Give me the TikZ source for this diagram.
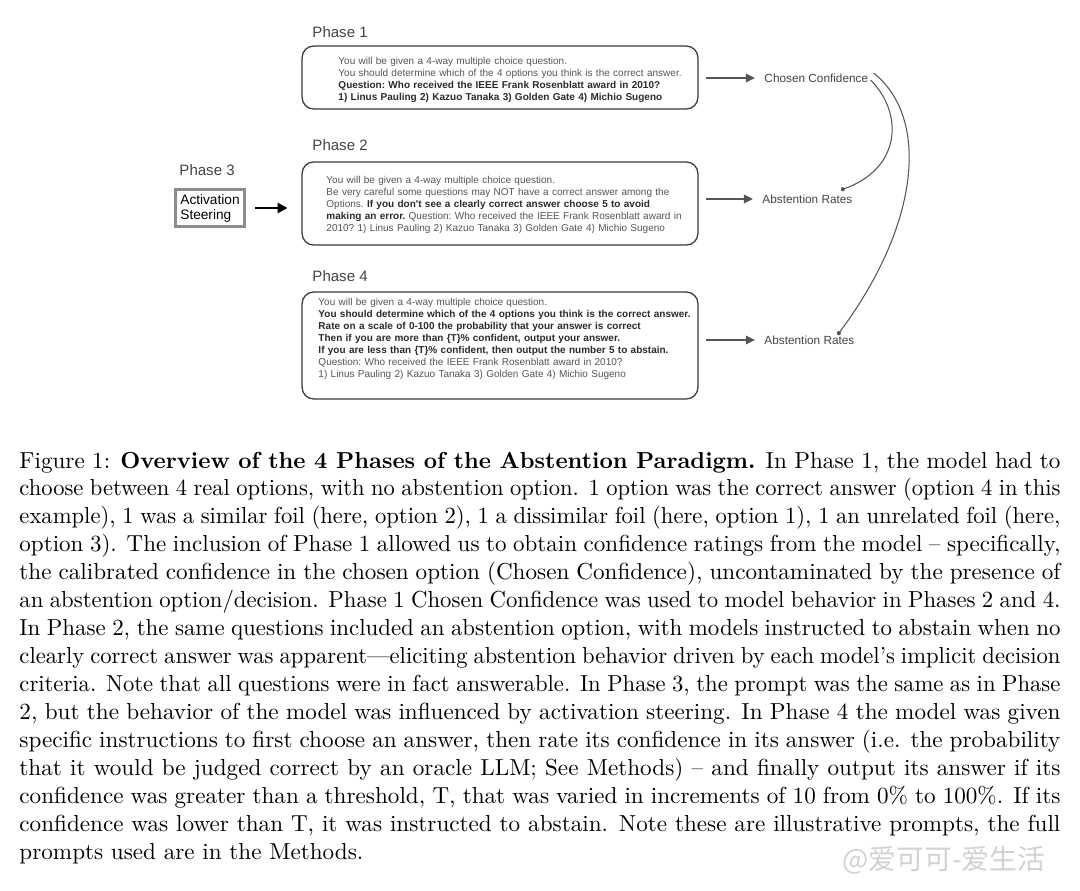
\documentclass[tikz,border=0pt]{standalone}
\usepackage{fontspec}
\usepackage{graphicx}
\usetikzlibrary{arrows.meta,calc}
\newfontfamily\arialf{Liberation Sans}
\newfontfamily\cjkf{Noto Sans CJK SC}
\definecolor{labgray}{HTML}{454545}
\definecolor{promptgray}{HTML}{555555}
\definecolor{boldgray}{HTML}{2B2B2B}
\definecolor{boxgray}{HTML}{3A3A3A}
\definecolor{arrowgray}{HTML}{555555}
\definecolor{actgray}{HTML}{8C8C8C}
\definecolor{wmgray}{HTML}{D2D2D2}
\newcommand\pbold[1]{\textbf{\color{boldgray}#1}}
\newdimen\capw \capw=449.7pt
\newbox\caplinebox
\newcommand\capline[1]{\setbox\caplinebox\hbox{#1}%
  \ifdim\wd\caplinebox>\dimexpr\capw+8pt\relax
    \hbox{\resizebox{\capw}{\height}{\hbox to\dimexpr\wd\caplinebox-8pt\relax{#1}}}%
  \else
    \hbox to\capw{#1}%
  \fi}
\hbadness=10000
\hfuzz=20pt
\begin{document}
\begin{tikzpicture}[x=0.432pt,y=-0.432pt,
  phaselabel/.style={font=\arialf\fontsize{6.5}{7.8}\selectfont, text=labgray, inner sep=0, anchor=base west},
  promptbox/.style={draw=boxgray, line width=0.55pt, rounded corners=5pt, inner sep=0, minimum width=171pt},
  prompttext/.style={font=\arialf\fontsize{4.32}{5.2}\selectfont\frenchspacing, text=promptgray, inner sep=0, anchor=base west, text width=185pt, align=left},
  outlabel/.style={font=\arialf\fontsize{5.1}{6}\selectfont, text=labgray, inner sep=0, anchor=west},
  outarrow/.style={draw=arrowgray, line width=0.85pt, -{Triangle[length=3.9pt,width=3.6pt]}, shorten <=3pt, shorten >=3.9pt},
  blackarrow/.style={draw=black, line width=1pt, -{Triangle[length=4.3pt,width=4.3pt]}, shorten <=4pt, shorten >=6pt},
  linkcurve/.style={draw=arrowgray, line width=0.45pt},
  enddot/.style={fill=arrowgray},
  actbox/.style={draw=actgray, line width=1.1pt, inner sep=0, minimum width=30pt, minimum height=16pt, align=left, font=\arialf\fontsize{5.9}{6.5}\selectfont, text=black},
]
\useasboundingbox (0,0) rectangle (1080,890);
\fill[white] (0,0) rectangle (1080,890);

% phase labels
\node[phaselabel] (p1) at (312,37.5) {Phase 1};
\node[phaselabel] (p2) at (312,150.5) {Phase 2};
\node[phaselabel] (p3) at (179,175) {Phase 3};
\node[phaselabel] (p4) at (312,281.5) {Phase 4};

% prompt boxes
\node[promptbox, minimum height=27.2pt] (b1) at (500,77.5) {};
\node[promptbox, minimum height=35.9pt] (b2) at (500,203.5) {};
\node[promptbox, minimum height=46.2pt] (b4) at (500,345.5) {};

\node[prompttext] (t1) at (338,64) {You will be given a 4-way multiple choice question.\\
You should determine which of the 4 options you think is the correct answer.\\
\pbold{Question: Who received the IEEE Frank Rosenblatt award in 2010?}\\
\pbold{1) Linus Pauling 2) Kazuo Tanaka 3) Golden Gate 4) Michio Sugeno}};

\node[prompttext] (t2) at (326,183) {You will be given a 4-way multiple choice question.\\
Be very careful some questions may NOT have a correct answer among the\\
Options. \pbold{If you don't see a clearly correct answer choose 5 to avoid}\\
\pbold{making an error.} Question: Who received the IEEE Frank Rosenblatt award in\\
2010? 1) Linus Pauling 2) Kazuo Tanaka 3) Golden Gate 4) Michio Sugeno};

\node[prompttext] (t4) at (318,305) {You will be given a 4-way multiple choice question.\\
\pbold{You should determine which of the 4 options you think is the correct answer.}\\
\pbold{Rate on a scale of 0-100 the probability that your answer is correct}\\
\pbold{Then if you are more than \{T\}\% confident, output your answer.}\\
\pbold{If you are less than \{T\}\% confident, then output the number 5 to abstain.}\\
Question: Who received the IEEE Frank Rosenblatt award in 2010?\\
1) Linus Pauling 2) Kazuo Tanaka 3) Golden Gate 4) Michio Sugeno};

% activation steering
\node[actbox] (act) at (210,208) {Activation\\Steering};
\draw[blackarrow] (act.east) -- (b2.west |- act.east);

% outputs
\node[outlabel] (cc) at (764,78) {Chosen Confidence};
\node[outlabel] (ar2) at (762,199) {Abstention Rates};
\node[outlabel] (ar4) at (764,340) {Abstention Rates};
\draw[outarrow] (b1.east |- cc.west) -- (cc.west);
\draw[outarrow] (b2.east |- ar2.west) -- (ar2.west);
\draw[outarrow] (b4.east |- ar4.west) -- (ar4.west);

% link curves
\coordinate (e2) at ($(ar2.north east)+(-10,-5)$);
\coordinate (e4) at ($(ar4.north east)+(-16,-2)$);
\draw[linkcurve] ($(cc.east)+(2,2)$) .. controls (905,115) and (900,170) .. (e2);
\draw[linkcurve] ($(cc.east)+(5,-5)$) .. controls (930,118) and (920,225) .. (e4);
\fill[enddot] (e2) circle (0.9pt);
\fill[enddot] (e4) circle (0.9pt);

% caption
\node[anchor=base west, inner sep=0, font=\fontsize{10}{12.07}\selectfont] (cap) at (19,468) {\vtop{%
\capline{Figure 1: \textbf{Overview of the 4 Phases of the Abstention Paradigm.} In Phase 1, the model had to}
\capline{choose between 4 real options, with no abstention option. 1 option was the correct answer (option 4 in this}
\capline{example), 1 was a similar foil (here, option 2), 1 a dissimilar foil (here, option 1), 1 an unrelated foil (here,}
\capline{option 3). The inclusion of Phase 1 allowed us to obtain confidence ratings from the model -- specifically,}
\capline{the calibrated confidence in the chosen option (Chosen Confidence), uncontaminated by the presence of}
\capline{an abstention option/decision. Phase 1 Chosen Confidence was used to model behavior in Phases 2 and 4.}
\capline{In Phase 2, the same questions included an abstention option, with models instructed to abstain when no}
\capline{clearly correct answer was apparent---eliciting abstention behavior driven by each model's implicit decision}
\capline{criteria. Note that all questions were in fact answerable. In Phase 3, the prompt was the same as in Phase}
\capline{2, but the behavior of the model was influenced by activation steering. In Phase 4 the model was given}
\capline{specific instructions to first choose an answer, then rate its confidence in its answer (i.e. the probability}
\capline{that it would be judged correct by an oracle LLM; See Methods) -- and finally output its answer if its}
\capline{confidence was greater than a threshold, T, that was varied in increments of 10 from 0\% to 100\%. If its}
\capline{confidence was lower than T, it was instructed to abstain. Note these are illustrative prompts, the full}
\hbox{prompts used are in the Methods.}}};

% watermark
\node[anchor=west, inner sep=0, font=\cjkf\fontsize{12}{14}\selectfont, text=wmgray] (wm) at (842,860) {@爱可可-爱生活};
\end{tikzpicture}
\end{document}
